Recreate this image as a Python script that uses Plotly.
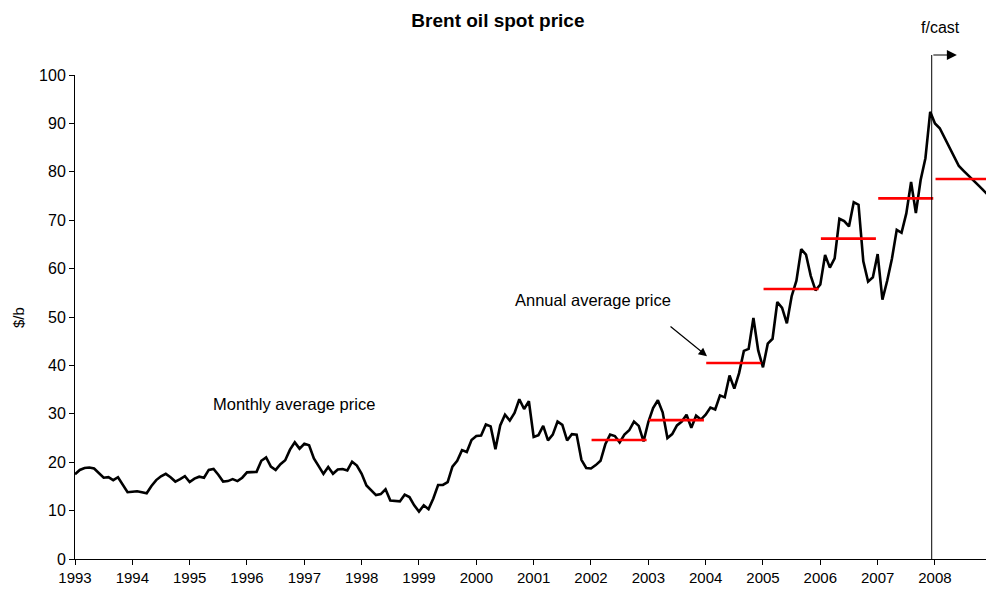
import plotly.graph_objects as go

# Monthly Brent spot price ($/b), one list per year, Jan..Dec positions
start_year = 1993
p1993 = [17.5, 18.4, 18.8, 18.9, 18.7, 17.8, 16.8, 16.9, 16.3, 16.9, 15.4, 13.8]
p1994 = [13.9, 14.0, 13.8, 13.6, 15.1, 16.3, 17.1, 17.6, 16.9, 16.0, 16.5, 17.1]
p1995 = [15.9, 16.6, 17.0, 16.8, 18.4, 18.6, 17.4, 16.0, 16.1, 16.5, 16.1, 16.8]
p1996 = [17.9, 17.9, 18.0, 20.3, 21.0, 19.1, 18.4, 19.6, 20.4, 22.6, 24.1, 22.8]
p1997 = [23.8, 23.5, 20.8, 19.2, 17.6, 19.0, 17.6, 18.5, 18.6, 18.3, 20.1, 19.3]
p1998 = [17.6, 15.2, 14.1, 13.2, 13.4, 14.4, 12.1, 12.0, 11.9, 13.3, 12.8, 11.1]
p1999 = [9.8, 11.1, 10.3, 12.5, 15.3, 15.3, 15.9, 19.1, 20.3, 22.5, 22.1, 24.6]
p2000 = [25.4, 25.5, 27.8, 27.4, 22.7, 27.6, 29.8, 28.6, 30.2, 33.0, 31.0, 32.6]
p2001 = [25.2, 25.6, 27.5, 24.5, 25.7, 28.4, 27.7, 24.5, 25.8, 25.7, 20.5, 18.8]
p2002 = [18.7, 19.4, 20.3, 23.7, 25.7, 25.4, 24.1, 25.7, 26.6, 28.4, 27.5, 24.3]
p2003 = [28.3, 31.2, 32.8, 30.3, 25.0, 25.8, 27.6, 28.4, 29.8, 27.1, 29.6, 28.8]
p2004 = [29.8, 31.3, 30.9, 33.8, 33.4, 37.9, 35.2, 38.4, 43.0, 43.4, 49.8, 43.1]
p2005 = [39.6, 44.5, 45.5, 53.1, 51.9, 48.7, 54.3, 57.5, 64.0, 62.9, 58.5, 55.5]
p2006 = [56.7, 62.8, 60.2, 62.1, 70.3, 69.8, 68.7, 73.7, 73.2, 61.5, 57.3, 58.2]
p2007 = [63.0, 53.6, 57.5, 62.1, 68.0, 67.4, 71.4, 77.9, 71.5, 78.3, 82.8, 92.4]
# forecast
p2008 = [90.0, 89.0, 87.0, 85.0, 83.0, 81.2, 80.2, 79.3, 78.3, 77.3, 76.3, 75.3]

# Annual average price (red bars)
avg_years = [2002, 2003, 2004, 2005, 2006, 2007, 2008]
avg_price = [24.6, 28.7, 40.5, 55.8, 66.2, 74.5, 78.5]

year_labels = [str(y) for y in range(1993, 2009)]

monthly = (p1993 + p1994 + p1995 + p1996 + p1997 + p1998 + p1999 + p2000 +
           p2001 + p2002 + p2003 + p2004 + p2005 + p2006 + p2007 + p2008)
months_x = [start_year + i / 12 for i in range(len(monthly))]

avg_x, avg_y = [], []
for yr, v in zip(avg_years, avg_price):
    avg_x += [yr + 0.01, yr + 0.97, None]
    avg_y += [v, v, None]

FONT = "Arial, Liberation Sans, sans-serif"

fig = go.Figure()

fig.add_trace(go.Scatter(
    x=months_x, y=monthly, mode='lines',
    line=dict(color='black', width=2.6),
    hoverinfo='skip'
))

fig.add_trace(go.Scatter(
    x=avg_x, y=avg_y, mode='lines',
    line=dict(color='#ff0000', width=2.6),
    hoverinfo='skip'
))

# forecast divider
fig.add_shape(type='line', xref='x', yref='paper',
              x0=2007.943, x1=2007.943, y0=0, y1=1.0413,
              line=dict(color='black', width=1))

fig.add_annotation(xref='paper', yref='paper', x=0.968, y=1.0413,
                   ax=-25, ay=0, text='', showarrow=True,
                   arrowhead=2, arrowsize=2, arrowwidth=1, arrowcolor='black')
fig.add_annotation(xref='paper', yref='paper', x=0.9506, y=1.099,
                   xanchor='center', yanchor='middle',
                   text='f/cast', showarrow=False,
                   font=dict(size=16, color='black', family=FONT))

fig.add_annotation(xref='paper', yref='paper', x=0.2409, y=0.3202,
                   xanchor='center', yanchor='middle',
                   text='Monthly average price', showarrow=False,
                   font=dict(size=16.5, color='black', family=FONT))
fig.add_annotation(xref='paper', yref='paper', x=0.5686, y=0.535,
                   xanchor='center', yanchor='middle',
                   text='Annual average price', showarrow=False,
                   font=dict(size=16.5, color='black', family=FONT))
fig.add_annotation(xref='x', yref='y', x=2004.024, y=41.9,
                   ax=-38, ay=-31, text='', showarrow=True,
                   arrowhead=2, arrowsize=1.4, arrowwidth=1.2, arrowcolor='black')

fig.add_annotation(xref='paper', yref='paper', x=-0.0626, y=0.5,
                   xanchor='center', yanchor='middle',
                   text='$/b', textangle=-90, showarrow=False,
                   font=dict(size=15, color='black', family=FONT))

fig.update_layout(
    width=986, height=590,
    title=dict(text='<b>Brent oil spot price</b>', x=0.505, xref='container',
               xanchor='center', y=1 - 20 / 590, yref='container',
               yanchor='middle',
               font=dict(size=19, color='black', family=FONT)),
    showlegend=False,
    paper_bgcolor='white',
    plot_bgcolor='white',
    font=dict(family=FONT, color='black', size=15),
    margin=dict(t=75, l=75, r=0, b=31),
    xaxis=dict(
        range=[1993, 2008.89],
        tickvals=list(range(1993, 2009)), ticktext=year_labels,
        ticks='outside', ticklen=5, tickcolor='black',
        showline=True, linecolor='black', linewidth=1,
        showgrid=False, zeroline=False,
        tickfont=dict(size=15, color='black')
    ),
    yaxis=dict(
        range=[0, 100], dtick=10,
        ticks='outside', ticklen=5, tickcolor='black',
        showline=True, linecolor='black', linewidth=1,
        showgrid=False, zeroline=False,
        tickfont=dict(size=16, color='black')
    )
)

# drop the page's default body margin so the figure fills the window
fig.write_html("out.html",
               config={'displayModeBar': False},
               post_script="document.body.style.margin='0';"
                           "document.body.style.overflow='hidden';")
